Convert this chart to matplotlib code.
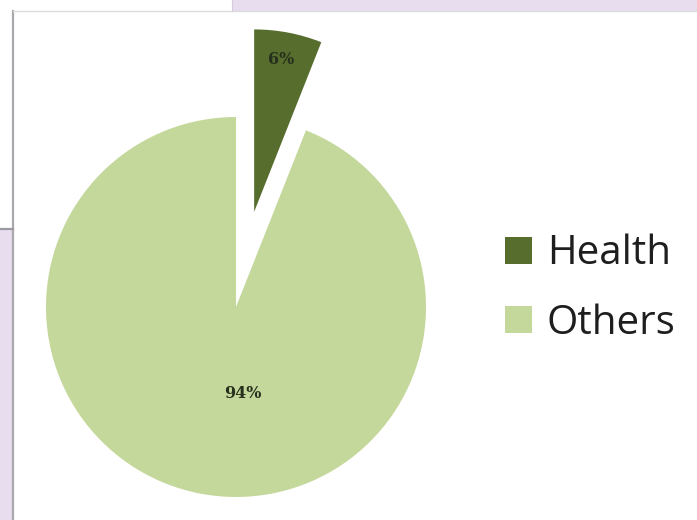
import matplotlib
matplotlib.use("Agg")
import matplotlib.pyplot as plt
from matplotlib.patches import Rectangle

categories = ["Health", "Others"]
shares = [6, 94]
colors = ["#566d2d", "#c5d89c"]
explode_frac = [0.51, 0.0]

W, H = 697, 520
R = 190
fig = plt.figure(figsize=(W / 100, H / 100), dpi=100)
fig.patch.set_facecolor("white")

# screenshot background: purple slide behind a white card
bg = fig.add_axes([0, 0, 1, 1])
bg.set_xlim(0, W)
bg.set_ylim(H, 0)
bg.axis("off")
purple = "#e8dcef"
bg.add_patch(Rectangle((232, 0), W - 232, 11, color=purple, lw=0))
bg.add_patch(Rectangle((0, 229), 13, H - 229, color=purple, lw=0))
bg.plot([13, 13], [11, H], color="#a9a9ad", lw=1.6)
bg.plot([13, W], [11, 11], color="#dcdce0", lw=1.0)
bg.plot([0, 13], [229, 229], color="#9a9aa0", lw=1.6)
bg.plot([232, 232], [0, 11], color="#d6cbe0", lw=0.8)

ax = fig.add_axes([0, 0, 1, 1])

wedges, texts, autotexts = ax.pie(
    shares,
    colors=colors,
    explode=[e * R for e in explode_frac],
    startangle=90,
    counterclock=False,
    radius=R,
    center=(236, H - 307),
    autopct="%d%%",
    pctdistance=0.81,
    frame=True,
    textprops=dict(family="DejaVu Serif", fontsize=11.5, color="#27301c",
                   fontweight="semibold"),
)
wedges[0].set_radius(R * 0.96)
ax.set_xlim(0, W)
ax.set_ylim(0, H)
ax.set_aspect("equal")
ax.axis("off")
autotexts[0].set_position((281, H - 59))
autotexts[1].set_position((243, H - 393))

leg = ax.legend(
    wedges,
    categories,
    loc="center left",
    bbox_to_anchor=(505 / W, 1 - 289 / H),
    frameon=False,
    prop=dict(family="Open Sans", size=29),
    handlelength=0.66,
    handleheight=0.66,
    handletextpad=0.38,
    labelspacing=0.72,
    borderpad=0,
    borderaxespad=0,
)
for t in leg.get_texts():
    t.set_color("#1e1e1e")

fig.savefig("out.png", dpi=100)
